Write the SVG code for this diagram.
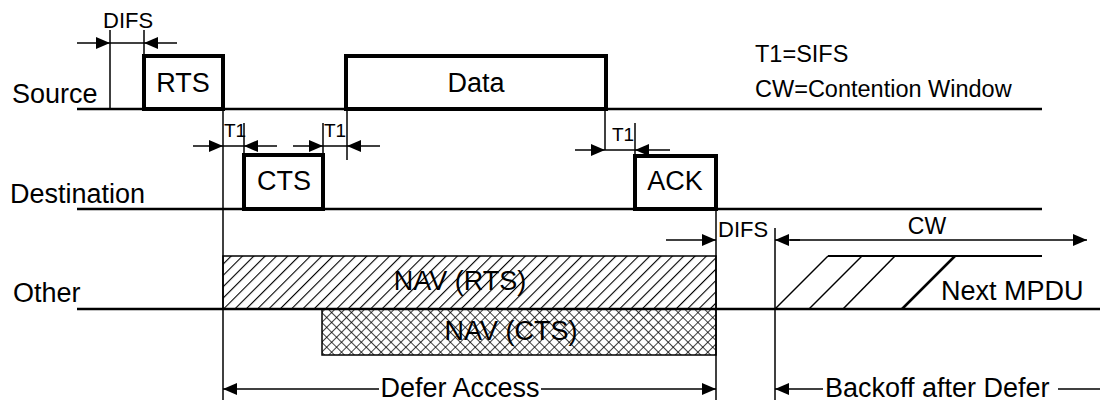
<svg xmlns="http://www.w3.org/2000/svg" width="1103" height="403" viewBox="0 0 1103 403">
<style>
text{font-family:"Liberation Sans",Arial,sans-serif;fill:#000}
.lbl{font-size:27px}
.big{font-size:27px;text-anchor:middle}
.sm{font-size:22px}
.t1{font-size:19px}
.note{font-size:23.5px}
.tl{stroke:#000;stroke-width:2.5;fill:none}
.th{stroke:#000;stroke-width:1.5;fill:none}
.box{stroke:#000;stroke-width:4;fill:#fff}
.arr{stroke:#000;stroke-width:1.5;fill:none;marker-end:url(#ah)}
</style>
<defs>
<marker id="ah" markerUnits="userSpaceOnUse" markerWidth="15" markerHeight="13" refX="14" refY="6" orient="auto">
<path d="M0,0 L14,6 L0,12 z" fill="#000"/>
</marker>
<pattern id="diag" patternUnits="userSpaceOnUse" width="8" height="8" patternTransform="rotate(45)">
<line x1="0" y1="0" x2="0" y2="8" stroke="#000" stroke-width="2.2"/>
</pattern>
<pattern id="cross" patternUnits="userSpaceOnUse" width="7" height="7" patternTransform="rotate(45)">
<line x1="0" y1="0" x2="0" y2="7" stroke="#000" stroke-width="1.5"/>
<line x1="0" y1="0" x2="7" y2="0" stroke="#000" stroke-width="1.5"/>
</pattern>
</defs>

<g id="labels">
<text class="lbl" x="12" y="103">Source</text>
<text class="lbl" x="10" y="203">Destination</text>
<text class="lbl" x="13" y="302">Other</text>
<text class="note" x="755" y="62">T1=SIFS</text>
<text class="note" x="755" y="97">CW=Contention Window</text>
</g>

<g id="timelines">
<line class="tl" x1="77" y1="109" x2="1042" y2="109"/>
<line class="tl" x1="77" y1="209" x2="1042" y2="209"/>
<line class="tl" x1="77" y1="309" x2="1100" y2="309"/>
</g>

<g id="nav-rts">
<rect x="223" y="256" width="493" height="53" fill="url(#diag)" stroke="#000" stroke-width="1.5"/>
<text class="big" x="460" y="290">NAV (RTS)</text>
</g>
<g id="nav-cts">
<rect x="322" y="309" width="394" height="46" fill="url(#cross)" stroke="#000" stroke-width="1.5"/>
<text class="big" x="511" y="340">NAV (CTS)</text>
</g>

<g id="rts">
<rect class="box" x="144" y="56" width="79" height="53"/>
<text class="big" x="183" y="92">RTS</text>
</g>
<g id="data">
<rect class="box" x="346" y="56" width="260" height="53"/>
<text class="big" x="476" y="92">Data</text>
</g>
<g id="cts">
<rect class="box" x="244" y="155" width="79" height="54"/>
<text class="big" x="284" y="190">CTS</text>
</g>
<g id="ack">
<rect class="box" x="635" y="156" width="81" height="53"/>
<text class="big" x="675" y="190">ACK</text>
</g>

<g id="connectors">
<line class="th" x1="110" y1="30" x2="110" y2="109"/>
<line class="th" x1="144" y1="30" x2="144" y2="56"/>
<line class="arr" x1="77" y1="43" x2="110" y2="43"/>
<line class="arr" x1="177" y1="43" x2="144" y2="43"/>
<line class="th" x1="110" y1="43" x2="144" y2="43"/>
<text class="sm" x="103" y="28">DIFS</text>
<line class="th" x1="223" y1="109" x2="223" y2="400"/>
<line class="th" x1="244" y1="123" x2="244" y2="155"/>
<line class="arr" x1="193" y1="146" x2="223" y2="146"/>
<line class="arr" x1="277" y1="146" x2="244" y2="146"/>
<line class="th" x1="223" y1="146" x2="244" y2="146"/>
<text class="t1" x="224" y="137">T1</text>
<line class="th" x1="323" y1="123" x2="323" y2="155"/>
<line class="th" x1="347" y1="109" x2="347" y2="160"/>
<line class="arr" x1="293" y1="146" x2="323" y2="146"/>
<line class="arr" x1="380" y1="146" x2="347" y2="146"/>
<line class="th" x1="323" y1="146" x2="347" y2="146"/>
<text class="t1" x="324" y="137">T1</text>
<line class="th" x1="605" y1="109" x2="605" y2="150"/>
<line class="th" x1="635" y1="123" x2="635" y2="156"/>
<line class="arr" x1="575" y1="150" x2="605" y2="150"/>
<line class="arr" x1="670" y1="150" x2="635" y2="150"/>
<line class="th" x1="605" y1="150" x2="635" y2="150"/>
<text class="t1" x="612" y="141">T1</text>
<line class="th" x1="716" y1="209" x2="716" y2="400"/>
<line class="arr" x1="666" y1="240" x2="716" y2="240"/>
<text class="sm" x="718" y="237">DIFS</text>
<line class="th" x1="775" y1="228" x2="775" y2="400"/>
<line class="arr" x1="800" y1="240" x2="775" y2="240"/>
<line class="arr" x1="790" y1="240" x2="1087" y2="240"/>
<text class="note" x="927" y="234" text-anchor="middle" style="font-size:23px">CW</text>
<line class="th" x1="775" y1="309" x2="828" y2="256"/>
<line class="th" x1="809" y1="309" x2="862" y2="256"/>
<line class="th" x1="843" y1="309" x2="895" y2="256"/>
<line stroke="#000" stroke-width="2.5" x1="902" y1="309" x2="955" y2="256"/>
<line stroke="#000" stroke-width="2" x1="828" y1="256" x2="1042" y2="256"/>
<text class="lbl" x="941" y="300">Next MPDU</text>
<line class="arr" x1="379" y1="389" x2="223" y2="389"/>
<line class="arr" x1="541" y1="389" x2="716" y2="389"/>
<text class="big" x="460" y="397">Defer Access</text>
<line class="arr" x1="823" y1="389" x2="775" y2="389"/>
<line class="th" x1="1058" y1="389" x2="1100" y2="389"/>
<text class="lbl" x="825" y="397">Backoff after Defer</text>
</g>
</svg>
